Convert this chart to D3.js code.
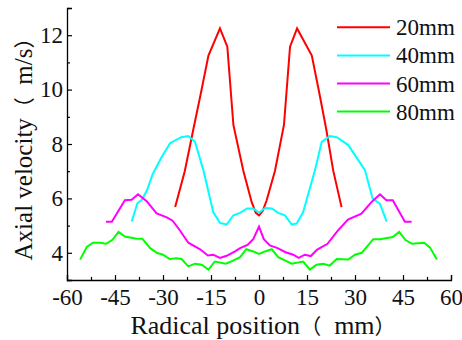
<!DOCTYPE html>
<html><head><meta charset="utf-8">
<script src="https://cdn.jsdelivr.net/npm/d3@7"></script>
<style>
html,body{margin:0;padding:0;background:#fff;}
svg{display:block;}
text{font-family:"Liberation Serif","Times New Roman",serif;}
.cjk{font-family:"Noto Sans CJK SC",sans-serif;font-size:21px;}
</style></head>
<body><svg id="c" width="462" height="340"></svg>
<script>
const seriesNames = ["20mm","40mm","60mm","80mm"];
const seriesColors = ["#ff0000","#00ffff","#ff00ff","#00ff00"];
const red20 = [[-26.2,5.68],[-23.2,7.0],[-20.5,8.55],[-18.2,9.85],[-15.8,11.25],[-12.2,12.25],[-9.9,11.58],[-8.0,8.7],[-4.9,7.02],[-2.3,5.87],[-1.0,5.47],[0,5.38],[1.2,5.55],[2.4,5.93],[5.0,7.02],[7.8,8.7],[9.7,11.58],[11.9,12.25],[16.5,11.25],[18.8,9.9],[21.0,8.55],[23.2,7.02],[25.8,5.68]];
const cyan40 = [[-39.8,5.15],[-38.0,5.82],[-36.6,5.95],[-35.0,6.3],[-33.2,6.9],[-30.5,7.5],[-27.8,8.03],[-24.3,8.25],[-22.1,8.29],[-20.0,8.08],[-17.4,7.04],[-14.3,5.5],[-12.2,5.1],[-10.1,5.04],[-8.0,5.38],[-5.9,5.47],[-3.7,5.63],[-1.8,5.63],[0,5.47],[1.9,5.65],[4.0,5.63],[6.0,5.47],[8.1,5.38],[10.2,5.04],[11.8,5.08],[13.8,5.5],[17.5,7.04],[19.6,8.08],[22.2,8.29],[24.3,8.25],[27.9,7.96],[30.5,7.5],[33.1,7.04],[35.5,6.0],[37.8,5.8],[39.9,5.15]];
const magenta60 = [[-47.8,5.14],[-46.0,5.14],[-41.9,5.93],[-39.8,5.95],[-37.8,6.15],[-35.1,5.9],[-32.0,5.45],[-28.8,5.3],[-27.0,5.18],[-24.7,4.82],[-22.1,4.37],[-18.4,4.13],[-16.0,3.9],[-14.3,3.93],[-12.2,3.81],[-10.1,3.89],[-7.5,4.05],[-5.9,4.17],[-3.6,4.29],[-1.8,4.5],[0,4.96],[1.5,4.5],[3.4,4.27],[5.8,4.17],[8.3,4.02],[10.7,3.93],[12.4,3.81],[14.3,3.93],[16.2,3.88],[18.2,4.12],[21.4,4.33],[24.5,4.8],[27.8,5.22],[32.0,5.44],[35.2,5.87],[37.8,6.15],[39.8,5.93],[41.8,5.93],[45.6,5.14],[47.7,5.14]];
const green80 = [[-55.9,3.75],[-53.8,4.22],[-51.9,4.37],[-49.8,4.37],[-47.8,4.33],[-45.8,4.48],[-43.9,4.77],[-41.9,4.6],[-38.6,4.53],[-36.5,4.52],[-34.0,4.17],[-31.8,3.99],[-30.0,3.93],[-27.9,3.77],[-25.8,3.8],[-24.2,3.77],[-22.1,3.5],[-20.0,3.6],[-17.9,3.56],[-15.8,3.38],[-13.8,3.68],[-10.4,3.6],[-8.3,3.7],[-5.9,3.84],[-4.0,4.13],[-1.8,4.05],[0,3.96],[1.9,4.05],[4.0,4.13],[6.0,3.84],[8.1,3.72],[10.2,3.6],[13.8,3.68],[15.9,3.38],[18.0,3.56],[20.1,3.6],[22.1,3.53],[24.3,3.77],[27.9,3.75],[30.0,3.93],[32.1,4.0],[35.7,4.5],[37.8,4.5],[41.8,4.58],[43.8,4.77],[45.8,4.47],[47.8,4.33],[51.6,4.37],[53.4,4.2],[55.6,3.75]];
const allSeries = [red20, cyan40, magenta60, green80];
const xTicks = [-60,-45,-30,-15,0,15,30,45,60];
const yTicks = [4,6,8,10,12];
const xTitleParts = ["Radical position","（","  mm","）"];
const yTitleParts = ["Axial velocity","（","  m/s","）"];

const svg = d3.select("#c");
const x = d3.scaleLinear().domain([-60,60]).range([67,451]);
const y = d3.scaleLinear().domain([3,13]).range([280,8]);

// axes
const xAxis = d3.axisBottom(x).tickValues(xTicks).tickSize(-5).tickPadding(9).tickFormat(d=>String(d));
const xMinor = d3.axisBottom(x).tickValues(d3.range(-52.5,60,15)).tickSize(-3).tickFormat("");
svg.append("g").attr("transform","translate(0,280)").call(xAxis);
svg.append("g").attr("transform","translate(0,280)").call(xMinor).select(".domain").remove();
const yAxis = d3.axisLeft(y).tickValues(yTicks).tickSize(-5).tickPadding(4).tickFormat(d=>String(d));
const yMinor = d3.axisLeft(y).tickValues([3,5,7,9,11,13]).tickSize(-3).tickFormat("");
svg.append("g").attr("transform","translate(67,0)").call(yAxis);
svg.append("g").attr("transform","translate(67,0)").call(yMinor).select(".domain").remove();
svg.selectAll(".domain").attr("stroke","#000").attr("stroke-width",1.3);
svg.selectAll(".tick line").attr("stroke","#000").attr("stroke-width",1.2);
svg.selectAll(".tick text").attr("font-size",23).attr("font-family","Liberation Serif, serif").attr("fill","#111");

// lines
const line = d3.line().x(d=>x(d[0])).y(d=>y(d[1]));
allSeries.forEach((s,i)=>{
  svg.append("path").datum(s).attr("d",line).attr("fill","none")
    .attr("stroke",seriesColors[i]).attr("stroke-width",2).attr("stroke-linejoin","miter");
});

// legend
const lg = svg.append("g");
seriesNames.forEach((n,i)=>{
  const ly = 27.3 + i*28.1;
  lg.append("line").attr("x1",337).attr("x2",390).attr("y1",ly).attr("y2",ly)
    .attr("stroke",seriesColors[i]).attr("stroke-width",2);
  lg.append("text").attr("x",396).attr("y",ly+8).attr("font-size",23).attr("fill","#111").text(n);
});

// titles
function title(sel, parts){
  parts.forEach((p,i)=>{
    sel.append("tspan").attr("class", (i===1||i===3)?"cjk":null).text(p);
  });
}
const xt = svg.append("text").attr("x",263).attr("y",334).attr("text-anchor","middle").attr("font-size",26).attr("fill","#111").style("white-space","pre");
title(xt, xTitleParts);
const yt = svg.append("text").attr("transform","translate(32,144) rotate(-90)").attr("text-anchor","middle").attr("font-size",25).attr("fill","#111").style("white-space","pre");
title(yt, yTitleParts);
</script></body></html>
